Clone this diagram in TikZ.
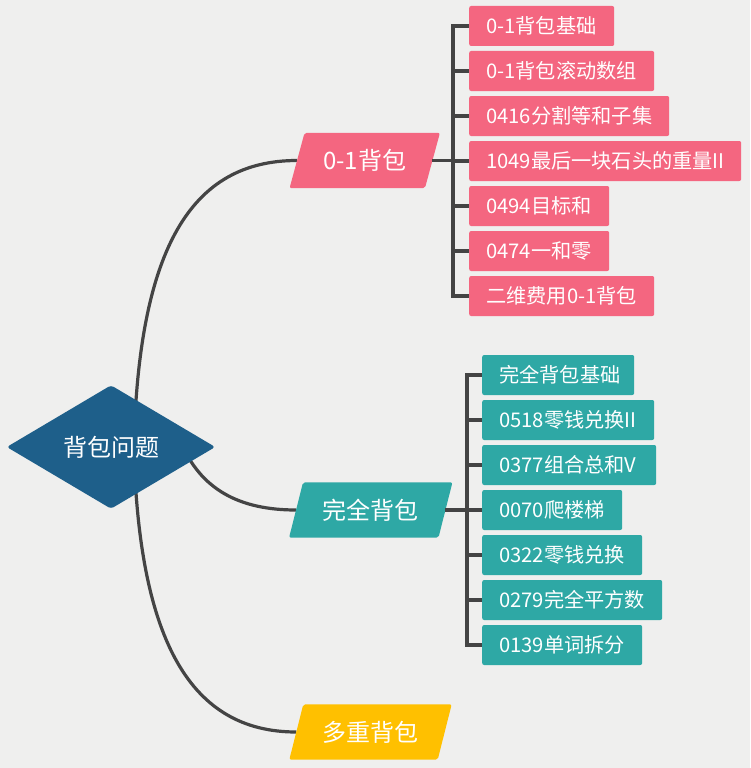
\documentclass[tikz,border=0pt]{standalone}
\usepackage{fontspec}
\setmainfont{Noto Sans CJK SC}
\usetikzlibrary{calc}
\pgfdeclarelayer{bglayer}
\pgfsetlayers{bglayer,main}
\definecolor{bgc}{RGB}{239,239,238}
\definecolor{pinkc}{RGB}{244,102,128}
\definecolor{tealc}{RGB}{46,168,165}
\definecolor{yellowc}{RGB}{255,192,0}
\definecolor{rootc}{RGB}{30,95,138}
\definecolor{linec}{RGB}{68,68,68}
\tikzset{
  leafbox/.style={rectangle, rounded corners=2, minimum height=40, inner xsep=17, inner ysep=0,
    text=white, font=\fontsize{20.2}{20}\selectfont},
  mainbox/.style={rectangle, minimum height=55, inner sep=0, text=white, font=\fontsize{24}{24}\selectfont},
  conn/.style={draw=linec, line width=3.2},
}
\newcommand\leafnode[6]{%
  \node[leafbox, fill=#5, minimum width={#4-#2}, anchor=west] (#1) at (#2,#3)
    {\makebox[\dimexpr #4pt-#2pt-34pt\relax][l]{#6}};}
\begin{document}
\begin{tikzpicture}[x=1pt,y=-1pt]
\useasboundingbox (0,0) rectangle (750,768);
% root
\node[rectangle, minimum width=208, minimum height=123, inner sep=0, text=white,
  font=\fontsize{24}{24}\selectfont] (root) at (111,447) {背包问题};
% main branches
\node[mainbox, minimum width=135] (a) at (364.75,160.5) {0-1背包};
\node[mainbox, minimum width=149] (b) at (370.75,510) {完全背包};
\node[mainbox, minimum width=148] (c) at (370.5,732) {多重背包};
% leaves 0-1
\leafnode{l11}{469}{26}{614}{pinkc}{0-1背包基础}
\leafnode{l12}{469}{71}{654}{pinkc}{0-1背包滚动数组}
\leafnode{l13}{469}{116}{669}{pinkc}{0416分割等和子集}
\leafnode{l14}{469}{161}{741}{pinkc}{1049最后一块石头的重量II}
\leafnode{l15}{469}{206}{609}{pinkc}{0494目标和}
\leafnode{l16}{469}{251}{609}{pinkc}{0474一和零}
\leafnode{l17}{469}{296}{654}{pinkc}{二维费用0-1背包}
% leaves complete
\leafnode{l21}{482}{375}{634}{tealc}{完全背包基础}
\leafnode{l22}{482}{420}{654}{tealc}{0518零钱兑换II}
\leafnode{l23}{482}{465}{656}{tealc}{0377组合总和V}
\leafnode{l24}{482}{510}{622}{tealc}{0070爬楼梯}
\leafnode{l25}{482}{555}{642}{tealc}{0322零钱兑换}
\leafnode{l26}{482}{600}{662}{tealc}{0279完全平方数}
\leafnode{l27}{482}{645}{642}{tealc}{0139单词拆分}
% coordinates
\coordinate (ra) at (134,440);
\coordinate (rb) at (180,440);
\coordinate (rc) at (134,454);
\coordinate (ka) at (453,160.5);
\coordinate (kb) at (467,510);
\begin{pgfonlayer}{bglayer}
\fill[bgc] (0,0) rectangle (750,768);
% curves
\draw[conn] (ra) .. controls (140,250) and (190,160.5) .. (a.west);
\draw[conn] (rb) .. controls (200,490) and (240,510) .. (b.west);
\draw[conn] (rc) .. controls (140,640) and (190,732) .. (c.west);
% diamond
\fill[rootc, rounded corners=3] (root.west) -- (root.north) -- (root.east) -- (root.south) -- cycle;
% parallelograms
\fill[pinkc, rounded corners=2] ($(a.south west)+(-7.5,0)$) -- ($(a.north west)+(7.5,0)$) -- ($(a.north east)+(7.5,0)$) -- ($(a.south east)+(-7.5,0)$) -- cycle;
\fill[tealc, rounded corners=2] ($(b.south west)+(-7,0)$) -- ($(b.north west)+(7,0)$) -- ($(b.north east)+(7,0)$) -- ($(b.south east)+(-7,0)$) -- cycle;
\fill[yellowc, rounded corners=2] ($(c.south west)+(-7,0)$) -- ($(c.north west)+(7,0)$) -- ($(c.north east)+(7,0)$) -- ($(c.south east)+(-7,0)$) -- cycle;
% brackets
\draw[conn] (a.east) -- (ka);
\draw[conn, line join=miter] (l11.west) -- ($(l11.west)+(-16,0)$) -- ($(l17.west)+(-16,0)$) -- (l17.west);
\foreach \n in {l12,l13,l14,l15,l16} \draw[conn] (\n.west) -- ++(-16,0);
\draw[conn] (b.east) -- (kb);
\draw[conn, line join=miter] (l21.west) -- ($(l21.west)+(-15,0)$) -- ($(l27.west)+(-15,0)$) -- (l27.west);
\foreach \n in {l22,l23,l24,l25,l26} \draw[conn] (\n.west) -- ++(-15,0);
\end{pgfonlayer}
\end{tikzpicture}
\end{document}
